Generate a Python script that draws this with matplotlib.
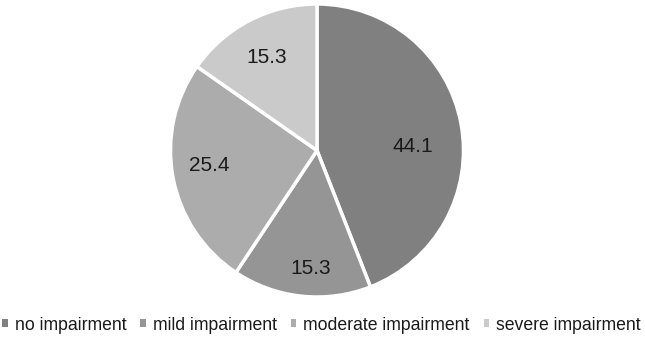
import matplotlib
matplotlib.use("Agg")
import numpy as np
import matplotlib.pyplot as plt

labels = ["no impairment", "mild impairment", "moderate impairment", "severe impairment"]
values = [44.1, 15.3, 25.4, 15.3]
colors = ["#808080", "#959595", "#acacac", "#cacaca"]

# where each value label sits: (angle in degrees, fraction of radius)
label_pos = [(2.1, 0.655), (-93.1, 0.81), (-172.3, 0.744), (118.1, 0.723)]

plt.rcParams["font.family"] = ["Liberation Sans", "DejaVu Sans"]

W, H = 645, 338
cx, cy, r = 317, 150.5, 146.5

fig = plt.figure(figsize=(W / 100, H / 100), dpi=100)

pax = fig.add_axes([(cx - r) / W, 1 - (cy + r) / H, 2 * r / W, 2 * r / H])
wedges, _ = pax.pie(values, colors=colors, startangle=90, counterclock=False,
                    wedgeprops=dict(edgecolor="white", linewidth=2.5))
pax.set_xlim(-1, 1)
pax.set_ylim(-1, 1)
pax.set_aspect("equal")
pax.axis("off")

for v, (ang, d) in zip(values, label_pos):
    a = np.deg2rad(ang)
    pax.text(d * np.cos(a), d * np.sin(a), f"{v:.1f}", ha="center", va="center",
             fontsize=15, color="#1a1a1a")

leg = fig.legend(wedges, labels, loc="center", bbox_to_anchor=(321.5 / W, 1 - 325 / H),
                 ncol=4, frameon=False, fontsize=12.7, handlelength=0.3, handleheight=0.3,
                 handletextpad=0.4, columnspacing=0.8, borderpad=0, labelcolor="#1a1a1a")
for h in leg.legend_handles:
    h.set_edgecolor("none")

fig.savefig("out.png", dpi=100)
